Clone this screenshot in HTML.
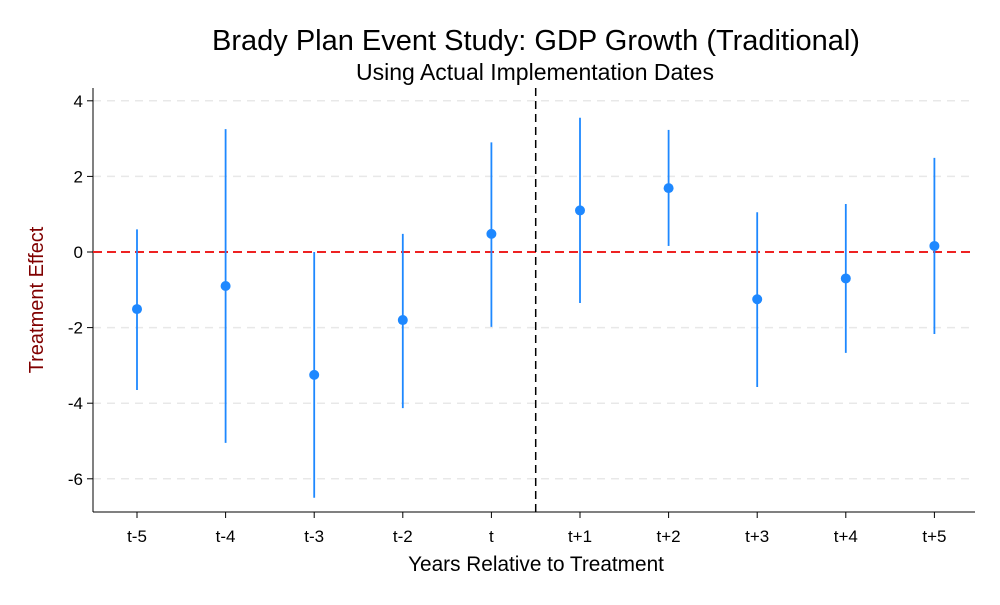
<!DOCTYPE html>
<html><head><meta charset="utf-8"><style>
body{margin:0;background:#fff;}
svg{font-family:"Liberation Sans",Arial,sans-serif;}
</style></head><body>
<svg id="chart" width="1000" height="600" viewBox="0 0 1000 600">
<rect width="1000" height="600" fill="#fff"/>
<text x="536" y="50" font-size="29" text-anchor="middle" fill="#000">Brady Plan Event Study: GDP Growth (Traditional)</text>
<text x="535" y="80" font-size="23" text-anchor="middle" fill="#000">Using Actual Implementation Dates</text>
<g id="grid"></g>
<g id="axes"></g>
<g id="marks"></g>
<text x="536" y="571" font-size="20.8" text-anchor="middle">Years Relative to Treatment</text>
<text transform="translate(43,300) rotate(-90)" font-size="20" text-anchor="middle" fill="#800000">Treatment Effect</text>
</svg>
<script>
const categories=["t-5","t-4","t-3","t-2","t","t+1","t+2","t+3","t+4","t+5"];
const estimates=[-1.51,-0.9,-3.25,-1.8,0.48,1.1,1.69,-1.25,-0.7,0.16];
const ciUpper=[0.6,3.25,0.0,0.48,2.9,3.55,3.23,1.05,1.27,2.49];
const ciLower=[-3.65,-5.05,-6.5,-4.13,-1.98,-1.35,0.16,-3.57,-2.67,-2.17];
const yTicks=[-6,-4,-2,0,2,4];
const NS="http://www.w3.org/2000/svg";
const left=93,right=975,bottom=512;
function y(v){return 252-v*37.8;}
function x(i){return 137+i*88.6;}
function mk(tag,attrs,parent){const e=document.createElementNS(NS,tag);for(const k in attrs)e.setAttribute(k,attrs[k]);document.getElementById(parent).appendChild(e);return e;}
yTicks.forEach(t=>{
  if(t!==0){const g=mk('line',{x1:left,x2:right,y1:y(t),y2:y(t),stroke:'#e8e8e8','stroke-dasharray':'8,6','stroke-width':1.5},'grid');
  
  }
  const tk=mk('line',{x1:left-6,x2:left,y1:y(t),y2:y(t),stroke:'#000'},'axes');
  
  
  const lb=mk('text',{x:left-10,y:y(t)+6,'font-size':17,'text-anchor':'end'},'axes');
  lb.textContent=t;
  
  
});
const ya=mk('line',{x1:left,x2:left,y1:88,y2:bottom,stroke:'#000'},'axes');


const xa=mk('line',{x1:left,x2:right,y1:bottom,y2:bottom,stroke:'#000'},'axes');


categories.forEach((c,i)=>{
  const tk=mk('line',{x1:x(i),x2:x(i),y1:bottom,y2:bottom+6,stroke:'#000'},'axes');
  
  
  const lb=mk('text',{x:x(i),y:bottom+30,'font-size':17,'text-anchor':'middle'},'axes');
  lb.textContent=c;
  
  
});
const zl=mk('line',{x1:left,x2:right,y1:y(0),y2:y(0),stroke:'#ee2222','stroke-width':2,'stroke-dasharray':'9,5'},'marks');


const vl=mk('line',{x1:(x(4)+x(5))/2,x2:(x(4)+x(5))/2,y1:88,y2:bottom,stroke:'#000','stroke-width':1.5,'stroke-dasharray':'8,5'},'marks');


categories.forEach((c,i)=>{
  const l=mk('line',{x1:x(i),x2:x(i),y1:y(ciUpper[i]),y2:y(ciLower[i]),stroke:'#1e88ff','stroke-width':1.8},'marks');
  
  
  const p=mk('circle',{cx:x(i),cy:y(estimates[i]),r:5,fill:'#1e88ff'},'marks');
  
  
});
</script>
</body></html>
